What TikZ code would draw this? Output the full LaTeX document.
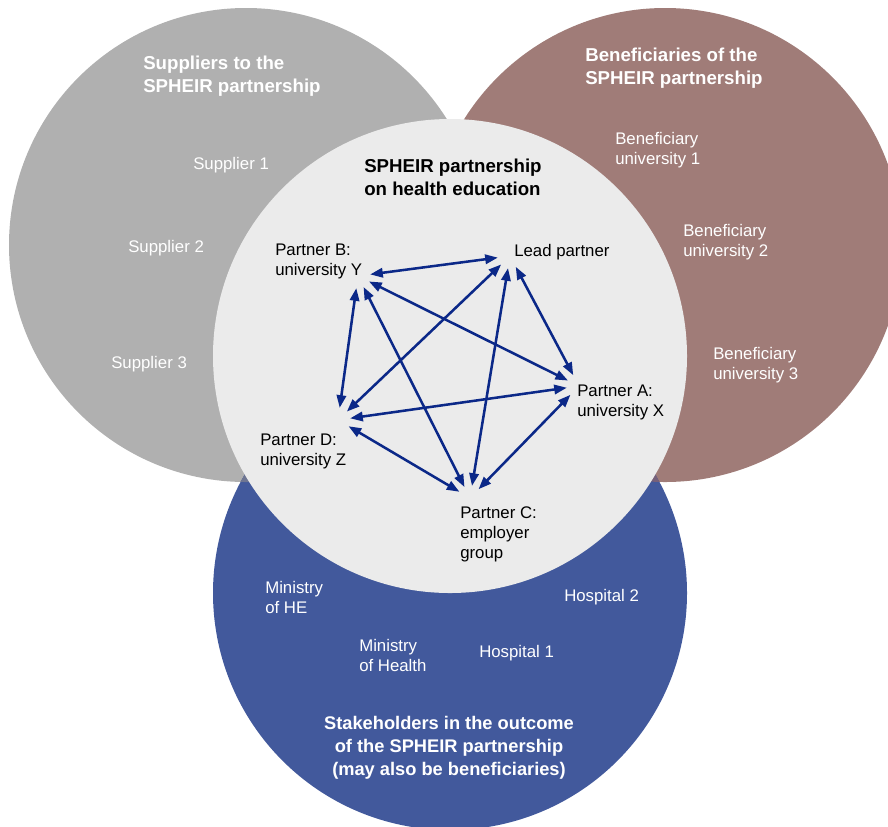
\documentclass[tikz,border=0pt]{standalone}
\usepackage{fontspec}
\setmainfont{Liberation Sans}
\usetikzlibrary{arrows.meta, positioning}

\definecolor{supgrey}{HTML}{B0B0B0}
\definecolor{benbrown}{HTML}{A07C78}
\definecolor{stakeblue}{HTML}{42599C}
\definecolor{corepale}{HTML}{EBEBEB}
\definecolor{linknavy}{HTML}{0B2888}
\definecolor{greyblue}{HTML}{6E7592}
\definecolor{brownblue}{HTML}{76607A}

\newcommand{\lblfont}{\fontsize{12.6}{15}\selectfont}
\newcommand{\ttlfont}{\bfseries\fontsize{14}{17.5}\selectfont}

\begin{document}
\begin{tikzpicture}[
      x=0.75pt, y=-0.75pt,
      group/.style={circle, minimum size=355.5pt, inner sep=0pt},
      ttl/.style={font=\ttlfont, align=left, anchor=west, inner sep=0pt},
      lbl/.style={font=\lblfont, align=left, anchor=west, inner sep=0pt},
      hub/.style={circle, minimum size=18pt, inner sep=0pt},
      link/.style={{Triangle[length=9.5pt, width=7pt]}-{Triangle[length=9.5pt, width=7pt]}, line width=1.9pt, linknavy}
    ]
    \useasboundingbox (0,0) rectangle (888,826);
    \clip (0,0) rectangle (888,826);

    % the four groups
    \node[group, fill=supgrey] (sup) at (246,245) {};
    \node[group, fill=benbrown] (ben) at (665,245) {};
    \node[group, fill=stakeblue] (stake) at (450,593) {};
    \begin{scope}
      \clip (sup.center) circle[radius=177.75pt];
      \fill[greyblue] (stake.center) circle[radius=177.75pt];
    \end{scope}
    \begin{scope}
      \clip (ben.center) circle[radius=177.75pt];
      \fill[brownblue] (stake.center) circle[radius=177.75pt];
    \end{scope}
    \node[group, fill=corepale] (core) at (450,356) {};

    % suppliers
    \node[ttl, text=white] (suptitle) at (143,76) {Suppliers to the\\SPHEIR partnership};
    \node[lbl, text=white] (sup1) at (193,165) {Supplier 1};
    \node[lbl, text=white] (sup2) at (128,248) {Supplier 2};
    \node[lbl, text=white] (sup3) at (111,364) {Supplier 3};

    % beneficiaries
    \node[ttl, text=white] (bentitle) at (585,68) {Beneficiaries of the\\SPHEIR partnership};
    \node[lbl, text=white] (ben1) at (615,150) {Beneficiary\\university 1};
    \node[lbl, text=white] (ben2) at (683,242) {Beneficiary\\university 2};
    \node[lbl, text=white] (ben3) at (713,365) {Beneficiary\\university 3};

    % stakeholders
    \node[lbl, text=white] (minhe) at (265,597) {Ministry\\of HE};
    \node[lbl, text=white] (minhealth) at (359,655) {Ministry\\of Health};
    \node[lbl, text=white] (hosp1) at (479,653) {Hospital 1};
    \node[lbl, text=white] (hosp2) at (564,597) {Hospital 2};
    \node[ttl, text=white, align=center, anchor=center, font=\bfseries\fontsize{13.7}{17.3}\selectfont] (staketitle) at (449,748)
      {Stakeholders in the outcome\\of the SPHEIR partnership\\(may also be beneficiaries)};

    % partnership
    \node[ttl] (coretitle) at (364,177) {SPHEIR partnership\\on health education};
    \node[lbl] (pblabel) at (275,261) {Partner B:\\university Y};
    \node[lbl] (leadlabel) at (514,252) {Lead partner};
    \node[lbl] (palabel) at (577,402) {Partner A:\\university X};
    \node[lbl] (pdlabel) at (260,451) {Partner D:\\university Z};
    \node[lbl] (pclabel) at (460,534) {Partner C:\\employer\\group};

    \node[hub] (pb) at (358,276) {};
    \node[hub] (lead) at (510,256) {};
    \node[hub] (pa) at (579,386) {};
    \node[hub] (pd) at (338,420) {};
    \node[hub] (pc) at (470,498) {};

    \foreach \a/\b in {pb/lead, pb/pd, pb/pc, pb/pa, lead/pd, lead/pc, lead/pa, pa/pd, pa/pc, pd/pc}
      \draw[link] (\a) -- (\b);
  \end{tikzpicture}
\end{document}
